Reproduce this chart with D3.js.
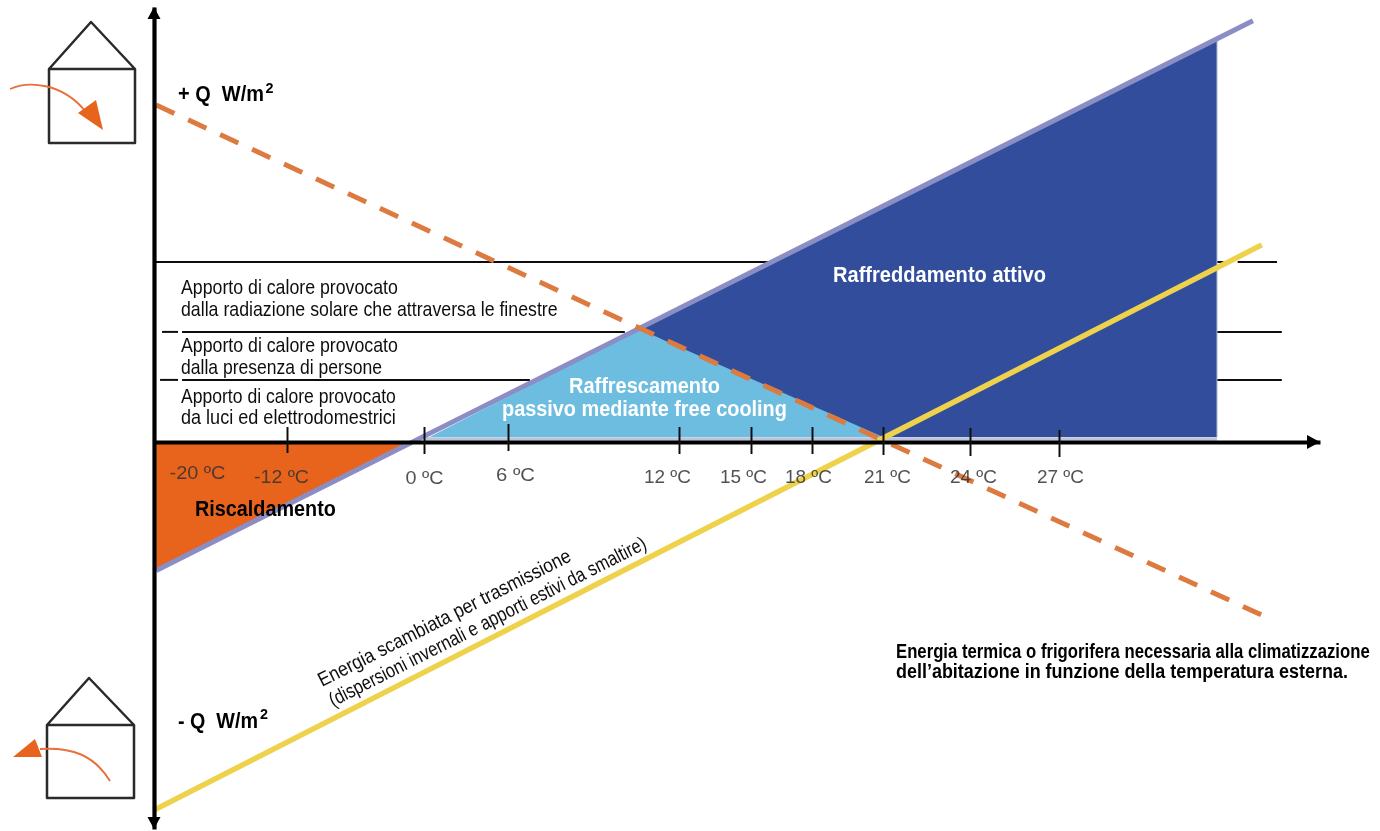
<!DOCTYPE html>
<html>
<head>
<meta charset="utf-8">
<script src="https://cdn.jsdelivr.net/npm/d3@7"></script>
<style>
  html, body { margin: 0; padding: 0; background: #fff; }
  svg { display: block; }
  text { font-family: "Liberation Sans", sans-serif; }
</style>
</head>
<body>
<svg id="chart" width="1380" height="831"></svg>
<script>
// temperature stops of the horizontal axis (the axis is not evenly spaced)
const tempStops = [-24, -20, -12, 0, 6, 12, 15, 18, 21, 24, 27, 40];
const tickTemps = [-20, -12, 0, 6, 12, 15, 18, 21, 24, 27];

// [temperature, Q]
const demandLine = [[-23.8, -42.8], [36.66, 140.4]];
const gainsLine = [[-23.8, 112.3], [37.1, -57.7]];
const transmissionLine = [[-24, -122.7], [37.1, 65.7]];

const heatingArea = [[-23.8, -0.7], [-1.4, -0.7], [-23.8, -42.5]];
const passiveArea = [[0.4, 1.7], [10.6, 37.6], [21.5, 1.7]];
const activeArea = [[10.6, 37.6], [34.87, 134], [34.87, 1.7], [21, 1.7]];

// gain levels, each one with the stretches of temperature where it is visible
const solarLevel = [60, [[-24, 35.2], [35.9, 37.86]]];
const peopleLevel = [36.7, [[-23.27, -21.82], [-21.45, 10.1], [34.87, 38.1]]];
const lightsLevel = [20.7, [[-23.45, -21.82], [-21.45, 6.77], [34.87, 38.1]]];

const xRange = [154, 198, 287, 424, 508, 679, 751, 812, 883, 970, 1059, 1320];
const x = d3.scaleLinear().domain(tempStops).range(xRange);
const y = d3.scaleLinear().domain([-129, 145]).range([829, 7]);

const root = d3.select("#chart");
root.append("defs").append("filter").attr("id", "soft")
  .attr("x", 0).attr("y", 0).attr("width", 1).attr("height", 1)
  .attr("filterUnits", "userSpaceOnUse")
  .attr("width", 1380).attr("height", 831)
  .append("feGaussianBlur").attr("stdDeviation", 0.4);
const svg = root.append("g").attr("filter", "url(#soft)");

const line = d3.line().x(d => x(d[0])).y(d => y(d[1]));
const area = d => line(d) + "Z";

// squeeze a text horizontally to the width it has in the picture
function fit(sel, width, px, py, rot) {
  sel.each(function () {
    const k = width / this.getComputedTextLength();
    d3.select(this).attr("transform", `translate(${px},${py})${rot ? ` rotate(${rot})` : ""} scale(${k},1)`);
  });
}

// horizontal levels go below the coloured areas
[solarLevel, peopleLevel, lightsLevel].forEach(([q, stretches]) => {
  stretches.forEach(s => {
    svg.append("line")
      .attr("x1", x(s[0])).attr("x2", x(s[1]))
      .attr("y1", y(q)).attr("y2", y(q))
      .attr("stroke", "#111").attr("stroke-width", 2);
  });
});

// light strip under the cooling areas
svg.append("line")
  .attr("x1", x(0)).attr("x2", x(34.87))
  .attr("y1", y(1)).attr("y2", y(1))
  .attr("stroke", "#bcc3dc").attr("stroke-width", 3.5);

svg.append("path").attr("d", area(heatingArea)).attr("fill", "#e8641f");
svg.append("path").attr("d", area(passiveArea)).attr("fill", "#6cbde0");
svg.append("path").attr("d", area(activeArea)).attr("fill", "#324e9c");
svg.append("line")
  .attr("x1", x(34.87)).attr("x2", x(34.87))
  .attr("y1", y(134)).attr("y2", y(1.7))
  .attr("stroke", "#a9b6de").attr("stroke-width", 1);

svg.append("path").attr("d", line(demandLine)).attr("fill", "none")
  .attr("stroke", "#8a8ec4").attr("stroke-width", 5);
svg.append("path").attr("d", line(transmissionLine)).attr("fill", "none")
  .attr("stroke", "#efd24c").attr("stroke-width", 5.5);
svg.append("path").attr("d", line(gainsLine)).attr("fill", "none")
  .attr("stroke", "#dd7a40").attr("stroke-width", 5)
  .attr("stroke-dasharray", "20 15.2");

// axes
const tickLabelX = [197, 281, 424, 515, 667, 743, 808, 887, 973, 1060];
const tickLabelY = [479, 483, 484, 481, 483, 483, 483, 483, 483, 483];
const tickLabelW = [56, 55, 38, 39, 47, 47, 47, 47, 47, 47];
const tickTop = [0, 427, 427, 424, 427, 427, 427, 427, 428, 430];
const tickBottom = [0, 453, 454, 451, 454, 454, 454, 455, 456, 457];

const xAxis = svg.append("g").attr("transform", `translate(0,${y(0)})`)
  .call(d3.axisBottom(x).tickValues(tickTemps).tickSizeOuter(0)
    .tickFormat(d => `${d} ºC`));
xAxis.select(".domain").attr("stroke", "#000").attr("stroke-width", 4.2);
xAxis.selectAll(".tick line")
  .attr("stroke", "#111").attr("stroke-width", 2)
  .attr("y1", (d, i) => tickTop[i] - y(0))
  .attr("y2", (d, i) => tickBottom[i] - y(0))
  .attr("display", d => d === -20 ? "none" : null);
xAxis.selectAll(".tick text")
  .attr("x", 0).attr("y", 0).attr("dy", 0)
  .attr("font-size", 19)
  .attr("font-family", null)
  .attr("fill", "#333").attr("fill-opacity", 0.85)
  .each(function (d, i) {
    fit(d3.select(this), tickLabelW[i], tickLabelX[i] - x(d), tickLabelY[i] - y(0));
  });

const yAxis = svg.append("g").attr("transform", `translate(${x(-24)},0)`)
  .call(d3.axisLeft(y).tickValues([]).tickSizeOuter(0));
yAxis.select(".domain").attr("stroke", "#000").attr("stroke-width", 4.2);

// arrow heads
const head = d3.line();
const tip = [x(-24), y(145)], tipDown = [x(-24), y(-129)], tipRight = [x(40), y(0)];
svg.append("path").attr("d", head([tip, [tip[0] + 6.5, tip[1] + 12], [tip[0] - 6.5, tip[1] + 12]]) + "Z");
svg.append("path").attr("d", head([tipDown, [tipDown[0] + 6.5, tipDown[1] - 12], [tipDown[0] - 6.5, tipDown[1] - 12]]) + "Z");
svg.append("path").attr("d", head([tipRight, [tipRight[0] - 13, tipRight[1] - 7], [tipRight[0] - 13, tipRight[1] + 7]]) + "Z");

// the two little houses
function house(g, left, top, right, bottom, apexX, apexY) {
  g.append("path")
    .attr("d", `M${left},${top}H${right}V${bottom}H${left}Z M${left},${top}L${apexX},${apexY}L${right},${top}`)
    .attr("fill", "none").attr("stroke", "#2a2a2a").attr("stroke-width", 2.5)
    .attr("stroke-linejoin", "round");
}
house(svg, 49, 69, 135, 143, 91, 22);
house(svg, 47, 725, 134, 798, 89, 678);

svg.append("path").attr("d", "M10,89C28,81 62,82 86,112").attr("fill", "none")
  .attr("stroke", "#e8703a").attr("stroke-width", 1.8);
svg.append("path").attr("d", "M103,130L78,113L96,100Z").attr("fill", "#e8641f");
svg.append("path").attr("d", "M110,781C94,755 72,747 40,749").attr("fill", "none")
  .attr("stroke", "#e8703a").attr("stroke-width", 2);
svg.append("path").attr("d", "M13,757L35,739L42,757Z").attr("fill", "#e8641f");

// text: [string, x, baseline, width, size, bold, colour]
const labels = [
  ["+ Q  W/m", 178, 101, 86, 22, true, "#000"],
  ["- Q  W/m", 178, 728, 80, 22, true, "#000"],
  ["Apporto di calore provocato", 181, 294, 217, 20.5, false, "#111"],
  ["dalla radiazione solare che attraversa le finestre", 181, 316, 377, 20.5, false, "#111"],
  ["Apporto di calore provocato", 181, 352, 217, 20.5, false, "#111"],
  ["dalla presenza di persone", 181, 374, 201, 20.5, false, "#111"],
  ["Apporto di calore provocato", 181, 403, 215, 20.5, false, "#111"],
  ["da luci ed elettrodomestrici", 181, 424, 215, 20.5, false, "#111"],
  ["Riscaldamento", 195, 516, 141, 22, true, "#000"],
  ["Raffreddamento attivo", 833, 282, 213, 22, true, "#fff"],
  ["Raffrescamento", 569, 393, 151, 22, true, "#fff"],
  ["passivo mediante free cooling", 502, 416, 285, 22, true, "#fff"],
  ["Energia termica o frigorifera necessaria alla climatizzazione", 896, 658, 474, 20, true, "#000"],
  ["dell’abitazione in funzione della temperatura esterna.", 896, 678, 452, 20, true, "#000"]
];
labels.forEach(d => {
  const t = svg.append("text")
    .attr("font-size", d[4])
    .attr("font-weight", d[5] ? "bold" : "normal")
    .attr("fill", d[6])
    .style("white-space", "pre")
    .text(d[0]);
  fit(t, d[3], d[1], d[2]);
});

// squared exponents
[[265.5, 93], [260, 719]].forEach(p => {
  const t = svg.append("text").attr("font-size", 15).attr("font-weight", "bold").text("2");
  fit(t, 8, p[0], p[1]);
});

// slanted labels along the yellow line
const slanted = [
  ["Energia scambiata per trasmissione", 322, 687, 281],
  ["(dispersioni invernali e apporti estivi da smaltire)", 333, 707, 353]
];
slanted.forEach(s => {
  const t = svg.append("text").attr("font-size", 20).attr("fill", "#111").text(s[0]);
  fit(t, s[3], s[1], s[2], -26.8);
});
</script>
</body>
</html>
